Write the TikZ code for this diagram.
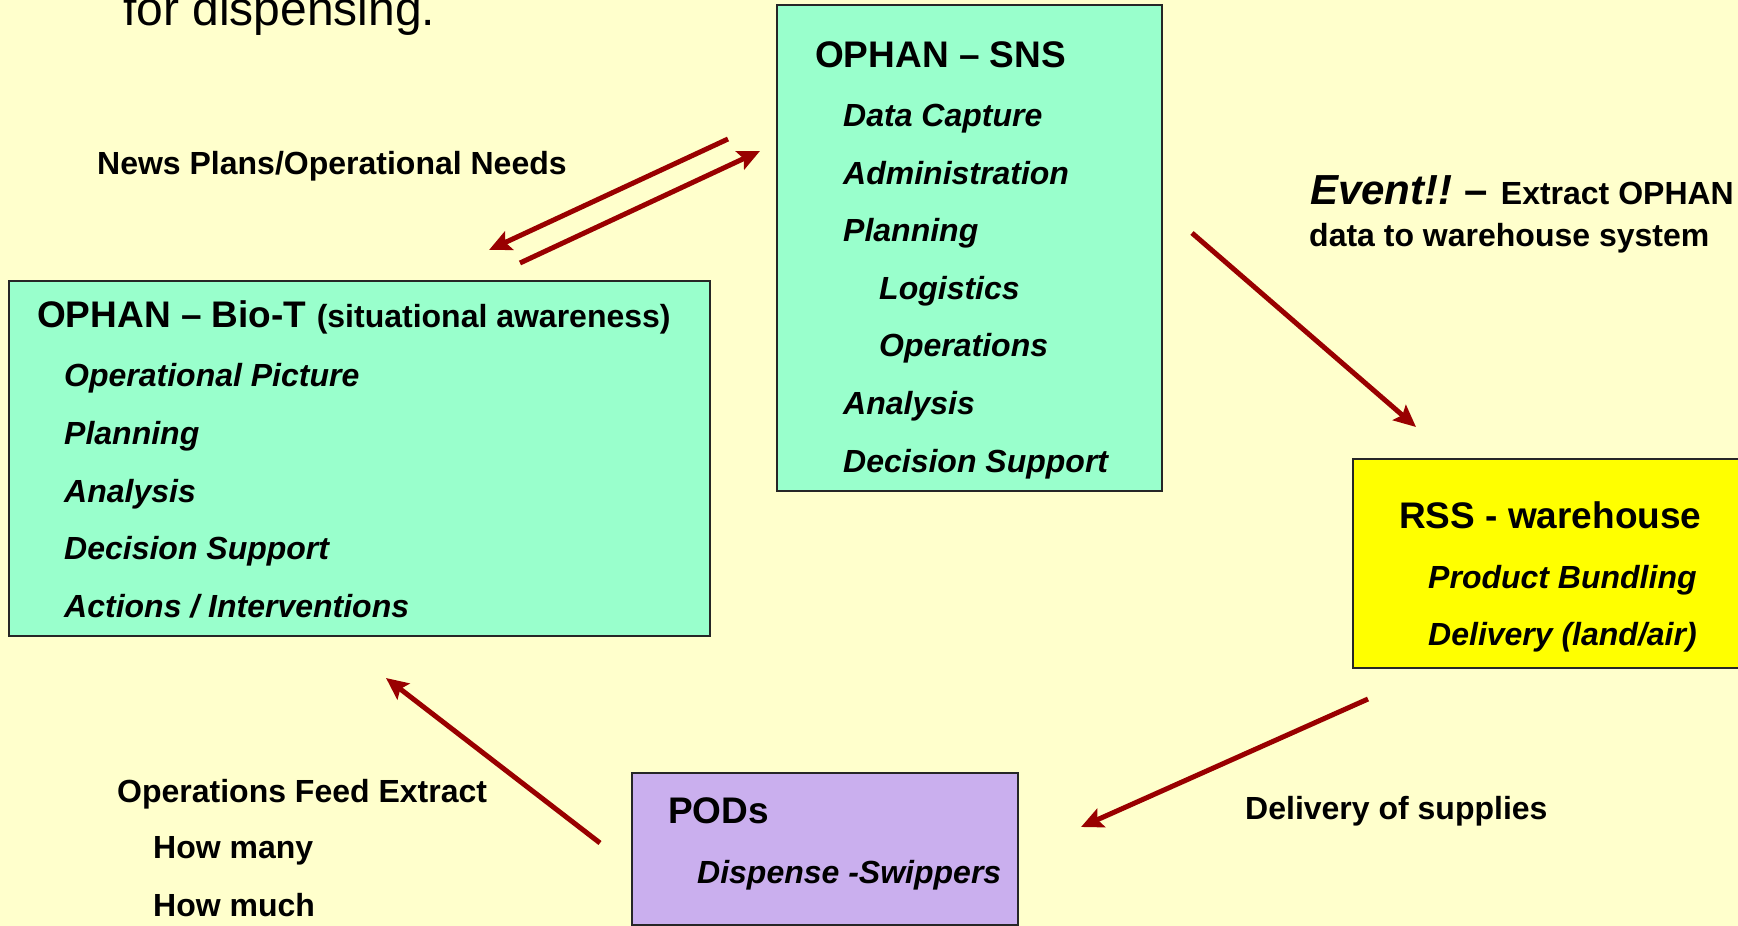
\documentclass[tikz,border=0pt]{standalone}
\usepackage{fontspec}
\setmainfont{Liberation Sans}
\usetikzlibrary{arrows.meta}
\definecolor{bgc}{HTML}{FFFFCC}
\definecolor{greenbox}{HTML}{99FFCC}
\definecolor{yellowbox}{HTML}{FFFF00}
\definecolor{purplebox}{HTML}{CAAFEE}
\definecolor{arrowc}{HTML}{990000}
\tikzset{
  box/.style={draw=black!85, line width=1.5pt, anchor=north west, inner sep=0pt},
  txt/.style={anchor=base west, inner sep=0pt, font=\fontsize{32}{38}\selectfont\bfseries},
  itm/.style={txt, font=\fontsize{32}{38}\selectfont\bfseries\itshape},
  ttl/.style={txt, font=\fontsize{37}{44}\selectfont\bfseries},
  flow/.style={draw=arrowc, line width=5pt, -{Stealth[length=22pt,width=20pt,inset=4pt]}}
}
\begin{document}
\begin{tikzpicture}[x=1pt,y=-1pt]
\useasboundingbox (0,0) rectangle (1738,926);
\fill[bgc] (0,0) rectangle (1738,926);

% top text (cut off)
\node[txt, font=\fontsize{48}{56}\selectfont] (disp) at (123,25) {for dispensing.};

% boxes
\node[box, fill=greenbox, minimum width=385pt, minimum height=486pt] (sns) at (776,4) {};
\node[box, fill=greenbox, minimum width=701pt, minimum height=355pt] (bio) at (8,280) {};
\node[box, fill=yellowbox, minimum width=388pt, minimum height=209pt] (rss) at (1352,458) {};
\node[box, fill=purplebox, minimum width=386pt, minimum height=152pt] (pod) at (631,772) {};

% SNS text
\node[ttl] (snst) at (815,67) {OPHAN -- SNS};
\node[itm] (sns1) at (843,126) {Data Capture};
\node[itm] (sns2) at (843,184) {Administration};
\node[itm] (sns3) at (843,241) {Planning};
\node[itm] (sns4) at (879,299) {Logistics};
\node[itm] (sns5) at (879,356) {Operations};
\node[itm] (sns6) at (843,414) {Analysis};
\node[itm] (sns7) at (843,472) {Decision Support};

% Bio-T text
\node[ttl] (biot) at (37,327) {OPHAN -- Bio-T \fontsize{32}{38}\selectfont(situational awareness)};
\node[itm] (bio1) at (64,386) {Operational Picture};
\node[itm] (bio2) at (64,444) {Planning};
\node[itm] (bio3) at (64,502) {Analysis};
\node[itm] (bio4) at (64,559) {Decision Support};
\node[itm] (bio5) at (64,617) {Actions / Interventions};

% RSS text
\node[ttl] (rsst) at (1399,528) {RSS - warehouse};
\node[itm] (rss1) at (1428,588) {Product Bundling};
\node[itm] (rss2) at (1428,645) {Delivery (land/air)};

% PODs text
\node[ttl] (podt) at (668,823) {PODs};
\node[itm] (pod1) at (697,883) {Dispense -Swippers};

% labels
\node[txt] (news) at (97,174) {News Plans/Operational Needs};
\node[txt] (ev1) at (1310,204) {{\fontsize{42}{48}\selectfont\itshape Event!!}\hspace{12pt}{\fontsize{42}{48}\selectfont --}\hspace{13pt}Extract OPHAN};
\node[txt] (ev2) at (1309,246) {data to warehouse system};
\node[txt] (ofe) at (117,802) {Operations Feed Extract};
\node[txt] (hm1) at (153,858) {How many};
\node[txt] (hm2) at (153,916) {How much};
\node[txt] (dos) at (1245,819) {Delivery of supplies};

% arrow end points
\coordinate (a1s) at (728,139);
\coordinate (a1e) at (489,250);
\coordinate (a2s) at (520,263);
\coordinate (a2e) at (760,151);
\coordinate (a3s) at (1192,233);
\coordinate (a3e) at (1416,427);
\coordinate (a4s) at (1368,699);
\coordinate (a4e) at (1081,827);
\coordinate (a5s) at (600,843);
\coordinate (a5e) at (386,678);

\draw[flow] (a1s) -- (a1e);
\draw[flow] (a2s) -- (a2e);
\draw[flow] (a3s) -- (a3e);
\draw[flow] (a4s) -- (a4e);
\draw[flow] (a5s) -- (a5e);
\end{tikzpicture}
\end{document}
